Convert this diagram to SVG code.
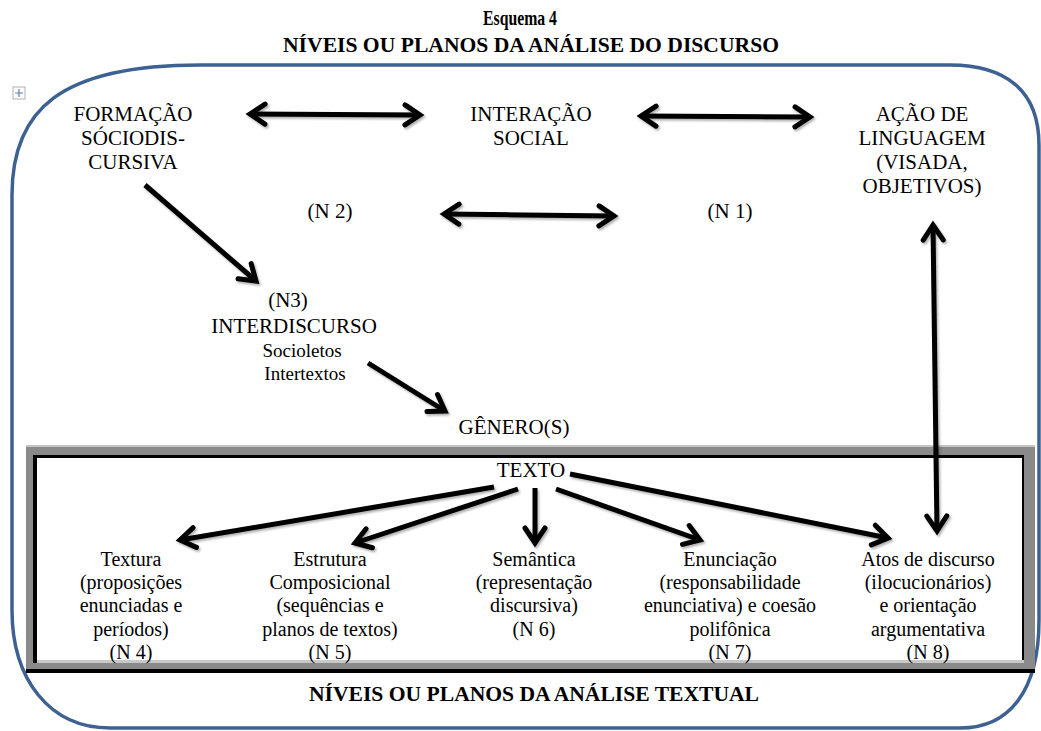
<svg xmlns="http://www.w3.org/2000/svg" width="1041" height="731" viewBox="0 0 1041 731">
<style>
text{font-family:"Liberation Serif","Times New Roman",serif;fill:#000;text-anchor:middle}
.t{font-size:21px}
.b{font-size:20px}
.s{font-size:19px}
.h{font-weight:bold}
.arr{fill:none;stroke:#000;stroke-width:5;marker-end:url(#ah)}
.dbl{marker-start:url(#ah)}
</style>
<defs>
<marker id="ah" viewBox="-22 -14 30 28" refX="0" refY="0" markerWidth="30" markerHeight="28" markerUnits="userSpaceOnUse" orient="auto-start-reverse" overflow="visible">
<path d="M -15,-10 L 0,0 L -15,10" fill="none" stroke="#000" stroke-width="5" stroke-linejoin="miter" stroke-linecap="round"/>
</marker>
<filter id="sh" x="-10%" y="-10%" width="120%" height="120%">
<feDropShadow dx="1.5" dy="2" stdDeviation="1.3" flood-color="#000" flood-opacity="0.3"/>
</filter>
</defs>
<rect width="1041" height="731" fill="#fff"/>

<g id="titles">
<text class="h" x="520" y="25" font-size="21" textLength="74" lengthAdjust="spacingAndGlyphs">Esquema 4</text>
<text class="h" x="531" y="52" font-size="22" textLength="496" lengthAdjust="spacingAndGlyphs">NÍVEIS OU PLANOS DA ANÁLISE DO DISCURSO</text>
</g>

<g id="frame">
<path d="M 200,65 L 950,65 C 1005,65 1039,90 1039,145 L 1039,620 C 1039,690 1010,728 960,728 L 110,728 C 50,728 12,680 12,610 L 12,195 C 12,110 60,65 200,65 Z" fill="none" stroke="#3d6192" stroke-width="3.5"/>
</g>

<g id="handle">
<rect x="13" y="87" width="12" height="12" fill="#fff" stroke="#b0b0b0" stroke-width="1"/>
<path d="M 19,89 V 97 M 15,93 H 23" stroke="#5a7fb0" stroke-width="1.2"/>
</g>

<g id="textbox">
<rect x="26" y="445" width="1009" height="228" fill="#8a8a8a"/>
<rect x="26" y="445" width="1009" height="2" fill="#c4c4c4"/>
<rect x="26" y="669" width="1009" height="4" fill="#000"/>
<rect x="33" y="455" width="991" height="208" fill="#000"/>
<rect x="37" y="458" width="985" height="202" fill="#fff"/>
<rect x="37" y="660" width="987" height="3" fill="#c8c8c8"/>
</g>

<g id="n-formacao"><text class="t" x="133" y="121">FORMAÇÃO</text><text class="t" x="133" y="145">SÓCIODIS-</text><text class="t" x="133" y="169">CURSIVA</text></g>
<g id="n-interacao"><text class="t" x="531" y="121">INTERAÇÃO</text><text class="t" x="531" y="145">SOCIAL</text></g>
<g id="n-acao"><text class="t" x="922" y="121">AÇÃO DE</text><text class="t" x="922" y="145">LINGUAGEM</text><text class="t" x="922" y="169">(VISADA,</text><text class="t" x="922" y="193">OBJETIVOS)</text></g>
<g id="n-n2"><text class="t" x="330" y="218">(N 2)</text></g>
<g id="n-n1"><text class="t" x="730" y="218">(N 1)</text></g>
<g id="n-interdiscurso"><text class="t" x="288" y="307">(N3)</text><text class="t" x="294" y="333">INTERDISCURSO</text><text class="s" x="302" y="357">Socioletos</text><text class="s" x="305" y="380">Intertextos</text></g>
<g id="n-genero"><text class="t" x="514" y="434">GÊNERO(S)</text></g>
<g id="n-texto"><text class="t" x="531" y="477">TEXTO</text></g>
<g id="n-textura"><text class="b" x="131" y="566">Textura</text><text class="b" x="131" y="589">(proposições</text><text class="b" x="131" y="612">enunciadas e</text><text class="b" x="131" y="636">períodos)</text><text class="b" x="131" y="659">(N 4)</text></g>
<g id="n-estrutura"><text class="b" x="330" y="566">Estrutura</text><text class="b" x="330" y="589">Composicional</text><text class="b" x="330" y="612">(sequências e</text><text class="b" x="330" y="636">planos de textos)</text><text class="b" x="330" y="659">(N 5)</text></g>
<g id="n-semantica"><text class="b" x="534" y="566">Semântica</text><text class="b" x="534" y="589">(representação</text><text class="b" x="534" y="612">discursiva)</text><text class="b" x="534" y="636">(N 6)</text></g>
<g id="n-enunciacao"><text class="b" x="730" y="566">Enunciação</text><text class="b" x="730" y="589">(responsabilidade</text><text class="b" x="730" y="612">enunciativa) e coesão</text><text class="b" x="730" y="636">polifônica</text><text class="b" x="730" y="659">(N 7)</text></g>
<g id="n-atos"><text class="b" x="928" y="566">Atos de discurso</text><text class="b" x="928" y="589">(ilocucionários)</text><text class="b" x="928" y="612">e orientação</text><text class="b" x="928" y="636">argumentativa</text><text class="b" x="928" y="659">(N 8)</text></g>

<g id="n-bottom-title"><text class="h" x="534" y="701" font-size="21" textLength="450" lengthAdjust="spacingAndGlyphs">NÍVEIS OU PLANOS DA ANÁLISE TEXTUAL</text></g>

<g id="connectors" filter="url(#sh)">
<path class="arr dbl" d="M 250,114 L 420,115"/>
<path class="arr dbl" d="M 641,116 L 810,117"/>
<path class="arr dbl" d="M 444,214 L 614,216"/>
<path class="arr" d="M 145,185 L 256,281"/>
<path class="arr" d="M 368,363 L 445,411"/>
<path class="arr dbl" d="M 933,225 L 937,531"/>
<path class="arr" d="M 494,487 L 180,540"/>
<path class="arr" d="M 518,489 L 355,543"/>
<path class="arr" d="M 535,488 L 535,543"/>
<path class="arr" d="M 556,489 L 700,540"/>
<path class="arr" d="M 570,474 L 888,538"/>
</g>
</svg>
